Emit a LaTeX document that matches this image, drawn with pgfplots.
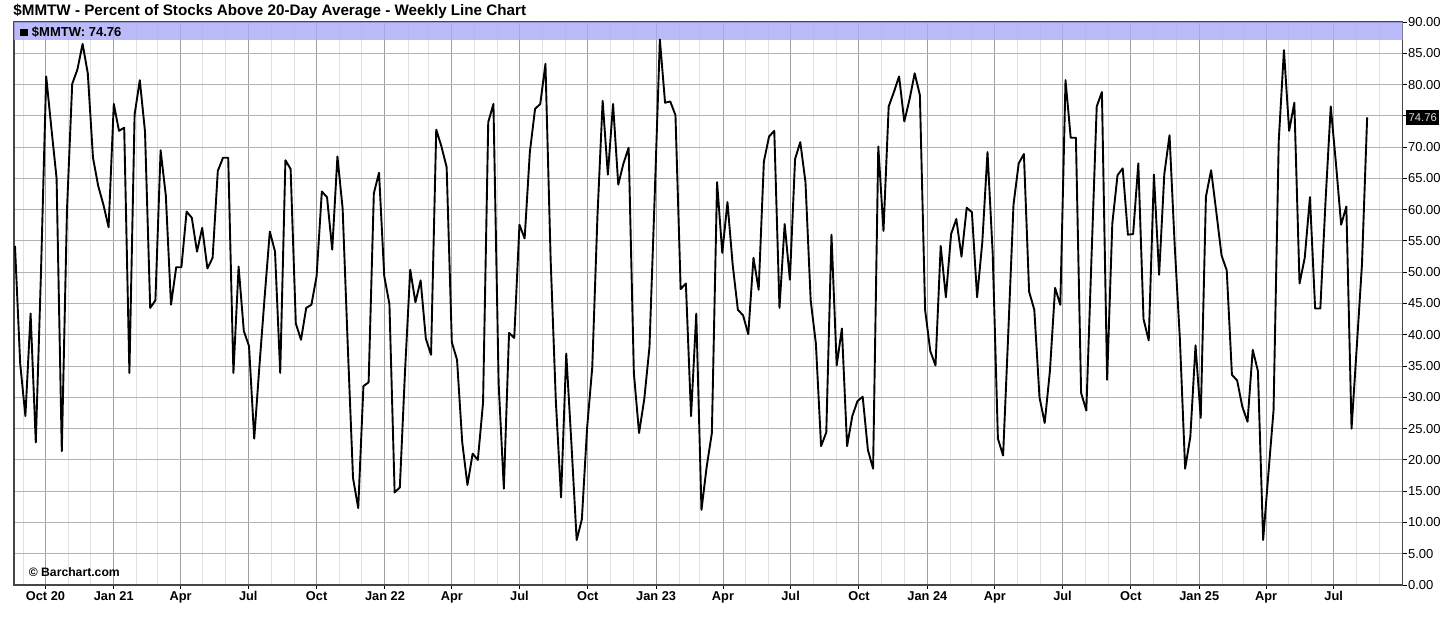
\documentclass[border=0pt]{standalone}
\usepackage{fontspec}
\setmainfont{Liberation Sans}
\usepackage{pgfplots}
\usepackage{pgfplotstable}
\pgfplotsset{compat=1.18}

\definecolor{bandblue}{RGB}{170,170,248}
\definecolor{gridmaj}{RGB}{160,160,160}
\definecolor{gridmin}{RGB}{225,225,225}
\definecolor{gridy}{RGB}{178,178,178}
\definecolor{framegray}{RGB}{70,70,70}

% weekly readings, first week = late Aug 2020
\pgfplotstableread{
v
54.2
35.4
27.0
43.4
22.8
50
81.3
73
65
21.4
60
80.1
82.4
86.5
81.8
68.3
63.8
60.8
57.2
76.9
72.6
73.1
33.9
75.2
80.7
72.5
44.3
45.5
69.5
62.3
44.8
50.8
50.8
59.7
58.7
53.3
57.1
50.6
52.3
66.2
68.3
68.3
33.9
50.9
40.6
38.2
23.4
35
46
56.5
53.3
33.9
67.9
66.5
41.8
39.2
44.3
44.8
49.4
62.9
62.0
53.6
68.5
60.2
38.0
17.1
12.3
31.8
32.4
62.6
65.9
49.4
44.9
14.8
15.6
34.2
50.4
45.2
48.7
39.4
36.8
72.8
70.1
66.8
38.8
36.0
22.8
16.0
21.0
20.0
29.1
74.0
76.9
32.2
15.4
40.3
39.5
57.6
55.4
69.2
76.1
76.9
83.3
52
29.4
14.0
37.0
22.5
7.2
10.5
25
34.8
59.0
77.4
65.6
76.9
64.0
67.4
69.9
33.9
24.3
29.7
38.0
62.0
87.2
77.1
77.3
75.1
47.3
48.2
27.0
43.4
12.0
18.9
24.3
64.4
53.1
61.2
51.2
44.0
43.1
40.1
52.3
47.2
67.7
71.7
72.6
44.3
57.7
48.8
68.1
70.8
64.4
45.5
38.6
22.2
24.4
56.0
35.1
41.0
22.2
27.0
29.4
30.1
21.6
18.6
70.1
56.6
76.5
78.8
81.3
74.1
77.6
81.8
78.3
44.0
37.4
35.1
54.2
46.0
56.1
58.5
52.5
60.3
59.6
46.0
54.8
69.2
53.0
23.4
20.7
40.4
60.8
67.4
68.9
46.9
44.0
30.0
25.9
34.2
47.5
44.8
80.7
71.5
71.5
30.7
27.9
52.4
76.5
78.8
32.8
57.8
65.5
66.6
56.0
56.1
67.4
42.5
39.1
65.6
49.6
65.7
71.9
54.2
39.2
18.6
23.7
38.3
26.7
62.1
66.3
59.6
52.7
50.3
33.6
32.7
28.5
26.1
37.6
34.2
7.2
17.7
27.9
71.0
85.5
72.6
77.1
48.2
52.3
62.0
44.2
44.2
61.4
76.5
67.4
57.6
60.5
25.0
38.0
51.2
74.76
}\mmtw

\begin{document}
\begin{tikzpicture}
\path (0pt,0pt) rectangle (728pt,-308pt);
\node[anchor=base west, inner sep=0pt, font=\bfseries\fontsize{7.6}{9}\selectfont]
  at (6.5pt,-7.5pt) {\$MMTW - Percent of Stocks Above 20-Day Average - Weekly Line Chart};
\begin{axis}[
  at={(7pt,-292.5pt)}, anchor=south west,
  scale only axis, width=694.25pt, height=281.5pt,
  xmin=-0.19, xmax=266.8, ymin=0, ymax=90,
  axis line style={framegray, line width=0.6pt},
  tick align=outside, xtick pos=bottom, ytick pos=right,
  major tick length=2pt, minor tick length=0pt,
  tick style={black, line width=0.5pt},
  xtick={5.86,19.0,31.86,44.86,58.0,71.14,84.0,97.0,110.14,123.29,136.14,149.14,162.29,175.43,188.43,201.43,214.57,227.71,240.57,253.57},
  xticklabels={Oct 20,Jan 21,Apr,Jul,Oct,Jan 22,Apr,Jul,Oct,Jan 23,Apr,Jul,Oct,Jan 24,Apr,Jul,Oct,Jan 25,Apr,Jul},
  minor xtick={1.57,10.29,14.57,23.43,27.43,36.14,40.57,49.29,53.71,62.43,66.71,75.57,79.57,88.29,92.71,101.43,105.86,114.57,118.86,127.71,131.71,140.43,144.86,153.57,158.0,166.71,171.0,179.86,184.0,192.71,197.14,205.86,210.29,219.0,223.29,232.14,236.14,244.86,249.29,258.0,262.43},
  ytick={0,5,...,90},
  yticklabels={0.00,5.00,10.00,15.00,20.00,25.00,30.00,35.00,40.00,45.00,50.00,55.00,60.00,65.00,70.00,{},80.00,85.00,90.00},
  xmajorgrids, xminorgrids, ymajorgrids,
  major x grid style={gridmaj, line width=0.5pt},
  minor x grid style={gridmin, line width=0.5pt},
  major y grid style={gridy, line width=0.5pt},
  xticklabel style={font=\bfseries\fontsize{6.4}{7}\selectfont, inner sep=1pt},
  yticklabel style={font=\fontsize{6.5}{7}\selectfont, inner sep=0.6pt},
]
\fill[bandblue, fill opacity=0.8] (rel axis cs:0,0.9689) rectangle (rel axis cs:1,1);
\addplot[black, line width=0.95pt, line join=round, no marks] table[x expr=\coordindex, y=v]{\mmtw};
\end{axis}
\fill[black] (10pt,-14.7pt) rectangle (14.2pt,-18pt);
\node[anchor=base west, inner sep=0pt, font=\bfseries\fontsize{6.5}{7}\selectfont]
  at (15.8pt,-18pt) {\$MMTW: 74.76};
\node[anchor=base west, inner sep=0pt, font=\bfseries\fontsize{6.1}{7}\selectfont]
  at (14.2pt,-288pt) {© Barchart.com};
\node[anchor=west, fill=black, text=black!12, inner xsep=1.3pt, inner ysep=0pt,
  minimum height=7.5pt, font=\fontsize{5.6}{6}\selectfont] at (702.85pt,-58.65pt) {74.76};
\end{tikzpicture}
\end{document}
